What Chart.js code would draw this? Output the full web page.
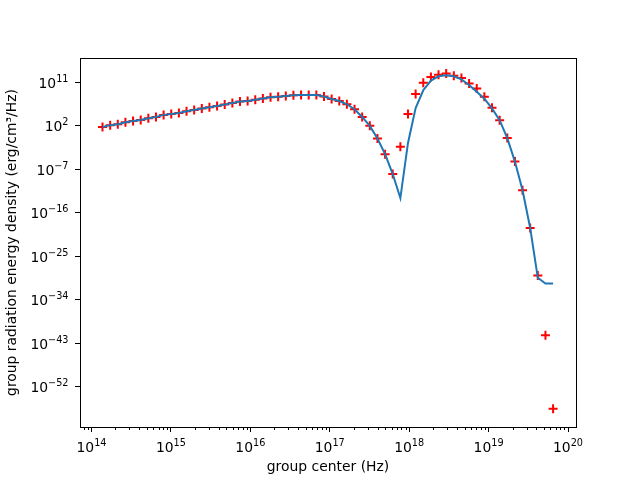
<!DOCTYPE html>
<html>
<head>
<meta charset="utf-8">
<script src="https://cdn.jsdelivr.net/npm/chart.js@4"></script>
<style>
  html, body { margin: 0; padding: 0; background: #fff; }
  #chart { display: block; }
</style>
</head>
<body>
<canvas id="chart" width="640" height="480"></canvas>
<script>
// group centers (Hz)
var groupCenter = [
    1.375e14, 1.717e14, 2.142e14, 2.673e14, 3.336e14, 4.163e14, 5.194e14, 6.479e14, 8.087e14, 1.009e15,
    1.259e15, 1.571e15, 1.961e15, 2.447e15, 3.053e15, 3.810e15, 4.754e15, 5.933e15, 7.403e15, 9.237e15,
    1.153e16, 1.438e16, 1.795e16, 2.239e16, 2.795e16, 3.487e16, 4.351e16, 5.430e16, 6.776e16, 8.455e16,
    1.055e17, 1.317e17, 1.643e17, 2.050e17, 2.558e17, 3.192e17, 3.984e17, 4.971e17, 6.203e17, 7.740e17,
    9.658e17, 1.205e18, 1.504e18, 1.877e18, 2.342e18, 2.923e18, 3.647e18, 4.550e18, 5.678e18, 7.085e18,
    8.841e18, 1.103e19, 1.377e19, 1.718e19, 2.144e19, 2.675e19, 3.338e19, 4.165e19, 5.197e19, 6.485e19
];

// red "+" markers
var markerEnergy = [
    5.0e1, 1.2e2, 1.9e2, 4.9e2, 9.1e2, 1.4e3, 3.3e3, 6.0e3, 1.6e4, 2.5e4,
    4.1e4, 9.1e4, 1.7e5, 3.3e5, 6.0e5, 1.1e6, 2.2e6, 4.7e6, 9.1e6, 1.2e7,
    2.1e7, 3.8e7, 7.1e7, 8.9e7, 1.3e8, 1.8e8, 2.1e8, 2.1e8, 2.0e8, 9.8e7,
    3.1e7, 1.2e7, 2.5e6, 2.3e5, 6.0e3, 8.5e1, 2.1e-1, 1.2e-4, 9.3e-9, 4.0e-3,
    2.5e4, 3.2e8, 7.1e10, 1.1e12, 3.2e12, 5.6e12, 2.0e12, 6.6e11, 4.7e10, 4.4e9,
    8.9e7, 5.0e5, 1.2e3, 2.5e-1, 3.5e-6, 4.0e-12, 6.3e-20, 1.0e-29, 4.0e-42, 2.5e-57
];

// blue line
var lineEnergy = [
    5.0e1, 1.2e2, 1.9e2, 4.9e2, 9.1e2, 1.4e3, 3.3e3, 6.0e3, 1.6e4, 2.5e4,
    4.1e4, 9.1e4, 1.7e5, 3.3e5, 6.0e5, 1.1e6, 2.2e6, 4.7e6, 9.1e6, 1.2e7,
    2.1e7, 3.8e7, 7.1e7, 8.9e7, 1.3e8, 1.8e8, 2.1e8, 2.1e8, 2.0e8, 9.8e7,
    3.1e7, 1.2e7, 2.5e6, 2.3e5, 6.0e3, 8.5e1, 2.1e-1, 1.2e-4, 9.3e-9, 1.0e-13,
    2.5e-2, 4.0e5, 2.0e9, 2.0e11, 1.5e12, 2.4e12, 1.5e12, 3.6e11, 2.5e10, 1.0e9,
    3.5e7, 3.5e5, 1.3e3, 2.5e-1, 3.5e-6, 4.0e-12, 6.3e-20, 3.2e-30, 2.0e-31, 2.0e-31
];

var xTicks = [1e14, 1e15, 1e16, 1e17, 1e18, 1e19, 1e20];
var yTicks = [1e11, 1e2, 1e-7, 1e-16, 1e-25, 1e-34, 1e-43, 1e-52];

function expOf(v) {
    return String(Math.round(Math.log10(v))).replace('-', '\u2212');
}

function points(ys) {
    return groupCenter.map(function (x, i) { return {x: x, y: ys[i]}; });
}

var font = {family: 'DejaVu Sans', size: 13.9};
var baseFont = '13.9px "DejaVu Sans"';
var supFont = '9.7px "DejaVu Sans"';

// draws frame, minor x ticks and 10^n tick labels with real superscripts
var framePlugin = {
    id: 'frame',
    afterDraw: function (chart) {
        var ctx = chart.ctx, a = chart.chartArea, xs = chart.scales.x, ys = chart.scales.y;
        ctx.save();
        ctx.strokeStyle = '#000';
        ctx.lineWidth = 1;
        ctx.beginPath();
        for (var d = 13; d <= 20; d++) {
            for (var k = 2; k <= 9; k++) {
                var v = k * Math.pow(10, d);
                if (v < xs.min || v > xs.max) continue;
                var px = Math.round(xs.getPixelForValue(v)) + 0.5;
                ctx.moveTo(px, a.bottom);
                ctx.lineTo(px, a.bottom + 3);
            }
        }
        ctx.stroke();
        ctx.strokeRect(Math.round(a.left) + 0.5, Math.round(a.top) + 0.5,
                       Math.round(a.right - a.left), Math.round(a.bottom - a.top));

        ctx.fillStyle = '#000';
        ctx.textBaseline = 'alphabetic';
        ctx.textAlign = 'left';
        xTicks.forEach(function (v) {
            var e = expOf(v);
            ctx.font = baseFont;
            var wb = ctx.measureText('10').width;
            ctx.font = supFont;
            var we = ctx.measureText(e).width;
            var x0 = xs.getPixelForValue(v) - (wb + we) / 2;
            var yb = a.bottom + 24.5;
            ctx.font = baseFont;
            ctx.fillText('10', x0, yb);
            ctx.font = supFont;
            ctx.fillText(e, x0 + wb, yb - 5.7);
        });
        yTicks.forEach(function (v) {
            var e = expOf(v);
            ctx.font = supFont;
            var we = ctx.measureText(e).width;
            ctx.font = baseFont;
            var wb = ctx.measureText('10').width;
            var right = a.left - 11.5;
            var yb = ys.getPixelForValue(v) + 5.5;
            ctx.fillText('10', right - we - wb, yb);
            ctx.font = supFont;
            ctx.fillText(e, right - we, yb - 6);
        });
        ctx.restore();
    }
};

var ctx = document.getElementById('chart').getContext('2d');
var myChart = new Chart(ctx, {
    type: 'scatter',
    data: {
        datasets: [{
            type: 'line',
            label: 'line',
            data: points(lineEnergy),
            borderColor: '#1f77b4',
            borderWidth: 2,
            pointRadius: 0,
            tension: 0,
            fill: false,
            order: 0
        }, {
            label: 'markers',
            data: points(markerEnergy),
            pointStyle: 'cross',
            pointRadius: 4.5,
            borderColor: '#ff0000',
            backgroundColor: '#ff0000',
            pointBorderWidth: 2,
            order: 1
        }]
    },
    options: {
        responsive: false,
        devicePixelRatio: 1,
        animation: false,
        layout: {padding: {left: 0, right: 64, top: 58, bottom: 0}},
        plugins: {legend: {display: false}, tooltip: {enabled: false}},
        scales: {
            x: {
                type: 'logarithmic',
                min: 7.16e13,
                max: 1.26e20,
                afterFit: function (scale) { scale.height = 53; },
                afterBuildTicks: function (scale) {
                    scale.ticks = xTicks.map(function (v) { return {value: v}; });
                },
                ticks: {
                    color: 'rgba(0,0,0,0)',
                    font: font,
                    padding: 2,
                    maxRotation: 0,
                    autoSkip: false,
                    callback: function (v) { return '10' + expOf(v); }
                },
                grid: {display: true, drawOnChartArea: false, drawTicks: true, tickLength: 5, color: '#000'},
                border: {display: true, color: '#000', width: 1},
                title: {display: true, text: 'group center (Hz)', color: '#000', font: font, padding: {top: 2, bottom: 4}}
            },
            y: {
                type: 'logarithmic',
                min: 4.4e-61,
                max: 9.3e15,
                afterFit: function (scale) { scale.width = 80; },
                afterBuildTicks: function (scale) {
                    scale.ticks = yTicks.map(function (v) { return {value: v}; });
                },
                ticks: {
                    color: 'rgba(0,0,0,0)',
                    font: font,
                    padding: 4,
                    autoSkip: false,
                    callback: function (v) { return '10' + expOf(v); }
                },
                grid: {display: true, drawOnChartArea: false, drawTicks: true, tickLength: 5, color: '#000'},
                border: {display: true, color: '#000', width: 1},
                title: {display: true, text: 'group radiation energy density (erg/cm\u00B3/Hz)', color: '#000', font: font, padding: {top: 4, bottom: 4}}
            }
        }
    },
    plugins: [framePlugin]
});
</script>
</body>
</html>
